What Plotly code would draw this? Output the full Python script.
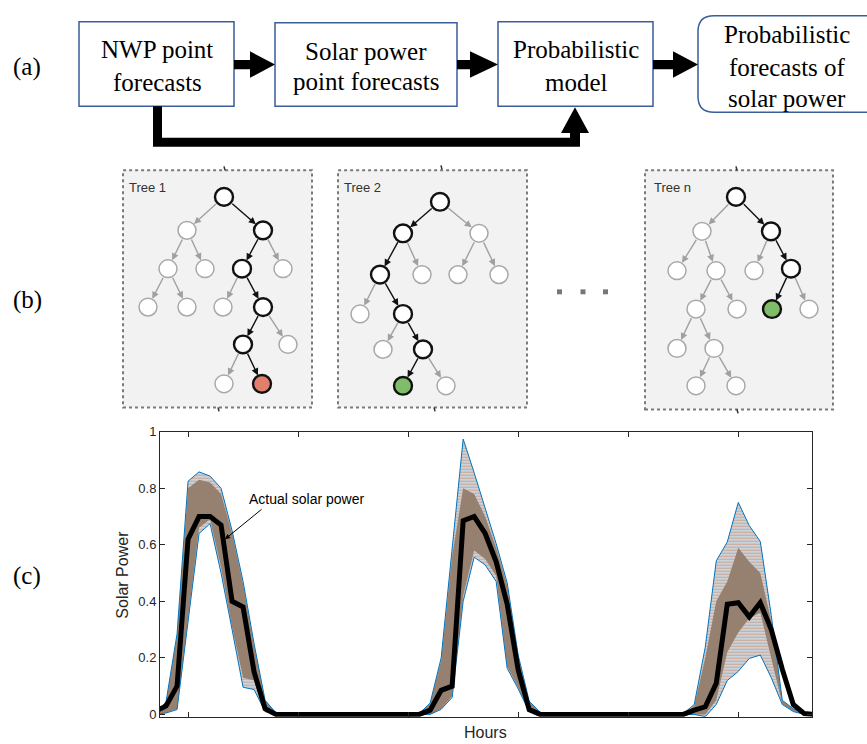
import plotly.graph_objects as go

# ---------------- data (c) ----------------
hours = list(range(7, 68))
hour_ticks = [10, 20, 30, 40, 50, 60]
power_ticks = [0, 0.2, 0.4, 0.6, 0.8, 1]
power_tick_text = ["0", "0.2", "0.4", "0.6", "0.8", "1"]

actual = ([0.01, 0.03, 0.10, 0.62, 0.70, 0.70, 0.67, 0.40, 0.38, 0.15, 0.02, 0.0]
          + [0.0] * 12
          + [0.0, 0.015, 0.085, 0.10, 0.685, 0.70, 0.64, 0.54, 0.39, 0.157, 0.017, 0.0]
          + [0.0] * 13
          + [0.015, 0.027, 0.11, 0.39, 0.395, 0.345, 0.395, 0.30, 0.16, 0.035, 0.003, 0.0])

upper = ([0.0, 0.045, 0.285, 0.825, 0.858, 0.843, 0.80, 0.65, 0.47, 0.25, 0.05, 0.005]
         + [0.0] * 12
         + [0.003, 0.04, 0.20, 0.58, 0.974, 0.855, 0.727, 0.604, 0.465, 0.21, 0.047, 0.007]
         + [0.0] * 12 + [0.003]
         + [0.035, 0.238, 0.543, 0.61, 0.75, 0.668, 0.612, 0.35, 0.05, 0.02, 0.005, 0.0])

lower = ([0.0, 0.005, 0.017, 0.33, 0.64, 0.675, 0.50, 0.30, 0.096, 0.088, 0.01, 0.0]
         + [0.0] * 12
         + [0.0, 0.0, 0.018, 0.06, 0.40, 0.556, 0.529, 0.47, 0.163, 0.09, 0.01, 0.0]
         + [0.0] * 13
         + [0.0, -0.008, 0.035, 0.12, 0.152, 0.198, 0.21, 0.13, 0.035, 0.01, 0.0, 0.0])

core_upper = ([0.0, 0.04, 0.28, 0.80, 0.83, 0.82, 0.78, 0.64, 0.46, 0.24, 0.05, 0.005]
              + [0.0] * 12
              + [0.003, 0.038, 0.19, 0.56, 0.80, 0.78, 0.70, 0.59, 0.455, 0.205, 0.045, 0.007]
              + [0.0] * 12 + [0.003]
              + [0.03, 0.20, 0.40, 0.47, 0.59, 0.54, 0.50, 0.33, 0.048, 0.02, 0.005, 0.0])

core_lower = ([0.0, 0.006, 0.02, 0.34, 0.66, 0.69, 0.52, 0.31, 0.13, 0.12, 0.012, 0.0]
              + [0.0] * 12
              + [0.0, 0.0, 0.02, 0.065, 0.42, 0.58, 0.55, 0.49, 0.17, 0.095, 0.011, 0.0]
              + [0.0] * 13
              + [0.002, 0.0, 0.05, 0.22, 0.29, 0.34, 0.36, 0.20, 0.037, 0.011, 0.0, 0.0])

# ---------------- diagram text ----------------
flow_boxes = [["NWP point", "forecasts"], ["Solar power", "point forecasts"],
              ["Probabilistic", "model"], ["Probabilistic", "forecasts of", "solar power"]]
panel_labels = ["(a)", "(b)", "(c)"]
tree_titles = ["Tree 1", "Tree 2", "Tree n"]

W, H = 867, 744


def PX(x):
    return x / W


def PY(y):
    return 1 - y / H


def note(x, y, text, size, family, color="black", xanchor="center", **kw):
    return dict(x=PX(x), y=PY(y), xref="paper", yref="paper", text=text, showarrow=False,
                xanchor=xanchor, yanchor="middle",
                font=dict(family=family, size=size, color=color), **kw)


fig = go.Figure()

# ---------------- chart traces ----------------
fig.add_trace(go.Scatter(x=hours, y=upper, mode="lines", line=dict(width=0),
                         showlegend=False, hoverinfo="skip"))
fig.add_trace(go.Scatter(x=hours, y=lower, mode="lines", line=dict(width=0),
                         fill="tonexty",
                         fillpattern=dict(shape="-", fgcolor="#D9682F", bgcolor="rgba(77,170,225,0.32)",
                                          size=3, solidity=0.5),
                         showlegend=False, hoverinfo="skip"))
fig.add_trace(go.Scatter(x=hours, y=core_upper, mode="lines", line=dict(width=0),
                         showlegend=False, hoverinfo="skip"))
fig.add_trace(go.Scatter(x=hours, y=core_lower, mode="lines", line=dict(width=0),
                         fill="tonexty", fillcolor="rgb(150,128,112)",
                         showlegend=False, hoverinfo="skip"))
fig.add_trace(go.Scatter(x=hours, y=upper, mode="lines", line=dict(width=1, color="#0072BD"),
                         showlegend=False, hoverinfo="skip"))
fig.add_trace(go.Scatter(x=hours, y=lower, mode="lines", line=dict(width=1, color="#0072BD"),
                         showlegend=False, hoverinfo="skip"))
fig.add_trace(go.Scatter(x=hours, y=actual, mode="lines", line=dict(width=5, color="black"),
                         showlegend=False, hoverinfo="skip"))

shapes = []
annotations = []

axis_color = "#262626"
fig.update_layout(
    width=W, height=H,
    margin=dict(l=0, r=0, t=0, b=0),
    paper_bgcolor="white", plot_bgcolor="white",
    xaxis=dict(domain=[160 / W, 812 / W], range=[7.45, 66.7], tickvals=hour_ticks,
               showticklabels=False, ticks="inside", ticklen=5, tickcolor=axis_color,
               showline=True, linecolor=axis_color, linewidth=1, mirror="allticks",
               showgrid=False, zeroline=False),
    yaxis=dict(domain=[1 - 721.3 / H, 1 - 431.7 / H], range=[-0.008, 1], tickvals=power_ticks,
               ticktext=power_tick_text, ticks="inside", ticklen=5, tickcolor=axis_color,
               showline=True, linecolor=axis_color, linewidth=1, mirror="allticks",
               showgrid=False, zeroline=False,
               tickfont=dict(family="Liberation Sans", size=13, color=axis_color)),
)

# axis titles & annotation
annotations.append(note(123, 577, "Solar Power", 16, "Liberation Sans", axis_color, textangle=-90))
annotations.append(note(485, 737, "Hours", 16, "Liberation Sans", axis_color))
annotations.append(note(307, 500, "Actual solar power", 14, "Liberation Sans", "black"))
annotations.append(dict(x=13.36, y=0.62, xref="x", yref="y", text="", showarrow=True,
                        ax=38, ay=-31, arrowhead=2, arrowsize=1, arrowwidth=1, arrowcolor="black"))

# ---------------- (a) flow diagram ----------------
serif = "Liberation Serif"
box_color = "#3a5e9c"
rects = [(79, 15, 234, 101), (275, 16, 457, 101), (498, 15, 653, 101)]
for (x0, y0, x1, y1) in rects:
    shapes.append(dict(type="rect", xref="paper", yref="paper", x0=PX(x0), x1=PX(x1),
                       y0=PY(y1), y1=PY(y0), line=dict(color=box_color, width=1.5),
                       fillcolor="white"))
# rounded box 4
x0, y0, x1, y1, r = 698, 9, 885, 107, 16
p = (f"M {PX(x0 + r)},{PY(y0)} L {PX(x1 - r)},{PY(y0)} Q {PX(x1)},{PY(y0)} {PX(x1)},{PY(y0 + r)} "
     f"L {PX(x1)},{PY(y1 - r)} Q {PX(x1)},{PY(y1)} {PX(x1 - r)},{PY(y1)} "
     f"L {PX(x0 + r)},{PY(y1)} Q {PX(x0)},{PY(y1)} {PX(x0)},{PY(y1 - r)} "
     f"L {PX(x0)},{PY(y0 + r)} Q {PX(x0)},{PY(y0)} {PX(x0 + r)},{PY(y0)} Z")
shapes.append(dict(type="path", xref="paper", yref="paper", path=p,
                   line=dict(color=box_color, width=1.5), fillcolor="white"))

text_pos = [(157, [43, 77]), (366, [45, 76]), (576, [43, 77]), (787, [28, 61, 93])]
for lines, (cx, ys) in zip(flow_boxes, text_pos):
    for t, yy in zip(lines, ys):
        annotations.append(note(cx, yy, t, 25, serif))


def harrow(xs, xh, xt, yc):
    return (f"M {PX(xs)},{PY(yc - 4.7)} L {PX(xh)},{PY(yc - 4.7)} L {PX(xh)},{PY(yc - 13.5)} "
            f"L {PX(xt)},{PY(yc)} L {PX(xh)},{PY(yc + 13.5)} L {PX(xh)},{PY(yc + 4.7)} "
            f"L {PX(xs)},{PY(yc + 4.7)} Z")


for (xs, xh, xt) in [(234, 250, 275), (457, 470, 498), (653, 673, 698)]:
    shapes.append(dict(type="path", xref="paper", yref="paper", path=harrow(xs, xh, xt, 58.5),
                       fillcolor="black", line=dict(width=0)))

conn = [(153, 101), (162, 101), (162, 133), (570, 133), (570, 128), (561, 128), (575, 102),
        (589, 128), (580, 128), (580, 142), (153, 142)]
p = "M " + " L ".join(f"{PX(a)},{PY(b)}" for a, b in conn) + " Z"
shapes.append(dict(type="path", xref="paper", yref="paper", path=p, fillcolor="black",
                   line=dict(width=0)))

# panel labels
for lab, yy in zip(panel_labels, [61, 298, 578]):
    annotations.append(note(27, yy, lab, 25, serif))

# ---------------- (b) trees ----------------
panels = [(123, 166, 312, 407), (338, 166, 527, 407), (645, 166, 833, 409)]
title_pos = [(127, 183), (342, 183), (652, 183)]
for (x0, y0, x1, y1), t, (tx, ty) in zip(panels, tree_titles, title_pos):
    shapes.append(dict(type="rect", xref="paper", yref="paper", x0=PX(x0), x1=PX(x1),
                       y0=PY(y1), y1=PY(y0), line=dict(color="#7a7a7a", width=2, dash="dot"),
                       fillcolor="#f2f2f2"))
    annotations.append(note(tx, ty, t, 13, "Liberation Sans", "#333333", xanchor="left"))

# small marks on panel borders
for (mx, my) in [(224, 164), (441, 163), (736, 164), (218, 409), (434, 409), (737, 411)]:
    shapes.append(dict(type="line", xref="paper", yref="paper", x0=PX(mx), x1=PX(mx + 1),
                       y0=PY(my - 2), y1=PY(my + 2), line=dict(color="#333", width=1.5)))

# ellipsis squares
for sx in [559.5, 583, 605.5]:
    shapes.append(dict(type="rect", xref="paper", yref="paper", x0=PX(sx - 2.5), x1=PX(sx + 2.5),
                       y0=PY(292), y1=PY(287), fillcolor="#777777", line=dict(width=0)))

# nodes: name -> (x, y, style)  style: g=gray, k=black, r=red leaf, G=green leaf
trees = [
    (
        {"a": (224, 193, "k"), "b": (187, 227, "g"), "c": (263, 227, "k"),
         "d": (168, 266, "g"), "e": (205, 266, "g"), "f": (242, 266, "k"), "h": (283, 266, "g"),
         "i": (148, 305, "g"), "j": (187, 305, "g"), "k": (223, 305, "g"), "l": (263, 305, "k"),
         "m": (243, 343, "k"), "n": (288, 343, "g"), "o": (224, 383, "g"), "p": (262, 383, "r")},
        [("a", "b", 0), ("a", "c", 1), ("b", "d", 0), ("b", "e", 0), ("c", "f", 1), ("c", "h", 0),
         ("d", "i", 0), ("d", "j", 0), ("f", "k", 0), ("f", "l", 1), ("l", "m", 1), ("l", "n", 0),
         ("m", "o", 0), ("m", "p", 1)],
    ),
    (
        {"a": (440, 198, "k"), "b": (403, 230, "k"), "c": (479, 230, "g"),
         "d": (380, 272, "k"), "e": (422, 272, "g"), "f": (458, 272, "g"), "h": (499, 272, "g"),
         "i": (360, 312, "g"), "j": (403, 312, "k"), "k": (383, 348, "g"), "l": (423, 348, "k"),
         "m": (403, 385, "G"), "n": (446, 385, "g")},
        [("a", "b", 1), ("a", "c", 0), ("b", "d", 1), ("b", "e", 0), ("c", "f", 0), ("c", "h", 0),
         ("d", "i", 0), ("d", "j", 1), ("j", "k", 0), ("j", "l", 1), ("l", "m", 1), ("l", "n", 0)],
    ),
    (
        {"a": (736, 193, "k"), "b": (702, 228, "g"), "c": (771, 228, "k"),
         "d": (677, 268, "g"), "e": (716, 268, "g"), "f": (754, 268, "g"), "h": (791, 266, "k"),
         "i": (696, 307, "g"), "j": (737, 307, "g"), "k": (772, 307, "G"), "l": (809, 307, "g"),
         "m": (677, 347, "g"), "n": (714, 347, "g"), "o": (696, 385, "g"), "p": (736, 385, "g")},
        [("a", "b", 0), ("a", "c", 1), ("b", "d", 0), ("b", "e", 0), ("c", "f", 0), ("c", "h", 1),
         ("e", "i", 0), ("e", "j", 0), ("h", "k", 1), ("h", "l", 0), ("i", "m", 0), ("i", "n", 0),
         ("n", "o", 0), ("n", "p", 0)],
    ),
]

R = 9
for nodes, edges in trees:
    for pa, ch, dark in edges:
        x0, y0, _ = nodes[pa]
        x1, y1, _ = nodes[ch]
        dx, dy = x1 - x0, y1 - y0
        L = (dx * dx + dy * dy) ** 0.5
        ux, uy = dx / L, dy / L
        sx, sy = x0 + ux * R, y0 + uy * R
        ex, ey = x1 - ux * (R + 0.5), y1 - uy * (R + 0.5)
        annotations.append(dict(x=PX(ex), y=PY(ey), xref="paper", yref="paper", text="",
                                showarrow=True, ax=sx - ex, ay=sy - ey, arrowhead=2,
                                arrowsize=1, arrowwidth=1.4,
                                arrowcolor="#111111" if dark else "#a0a0a0", standoff=0))
    for name, (x, y, st) in nodes.items():
        fill = {"g": "white", "k": "white", "r": "#e0806c", "G": "#80bd68"}[st]
        lc = "#a8a8a8" if st == "g" else "#111111"
        lw = 1.5 if st == "g" else 2.4
        shapes.append(dict(type="circle", xref="paper", yref="paper", x0=PX(x - R), x1=PX(x + R),
                           y0=PY(y + R), y1=PY(y - R), fillcolor=fill, line=dict(color=lc, width=lw)))

fig.update_layout(shapes=shapes, annotations=annotations)
fig.write_html("out.html", config={"displayModeBar": False},
               post_script="document.body.style.margin='0';document.body.style.overflow='hidden';")
